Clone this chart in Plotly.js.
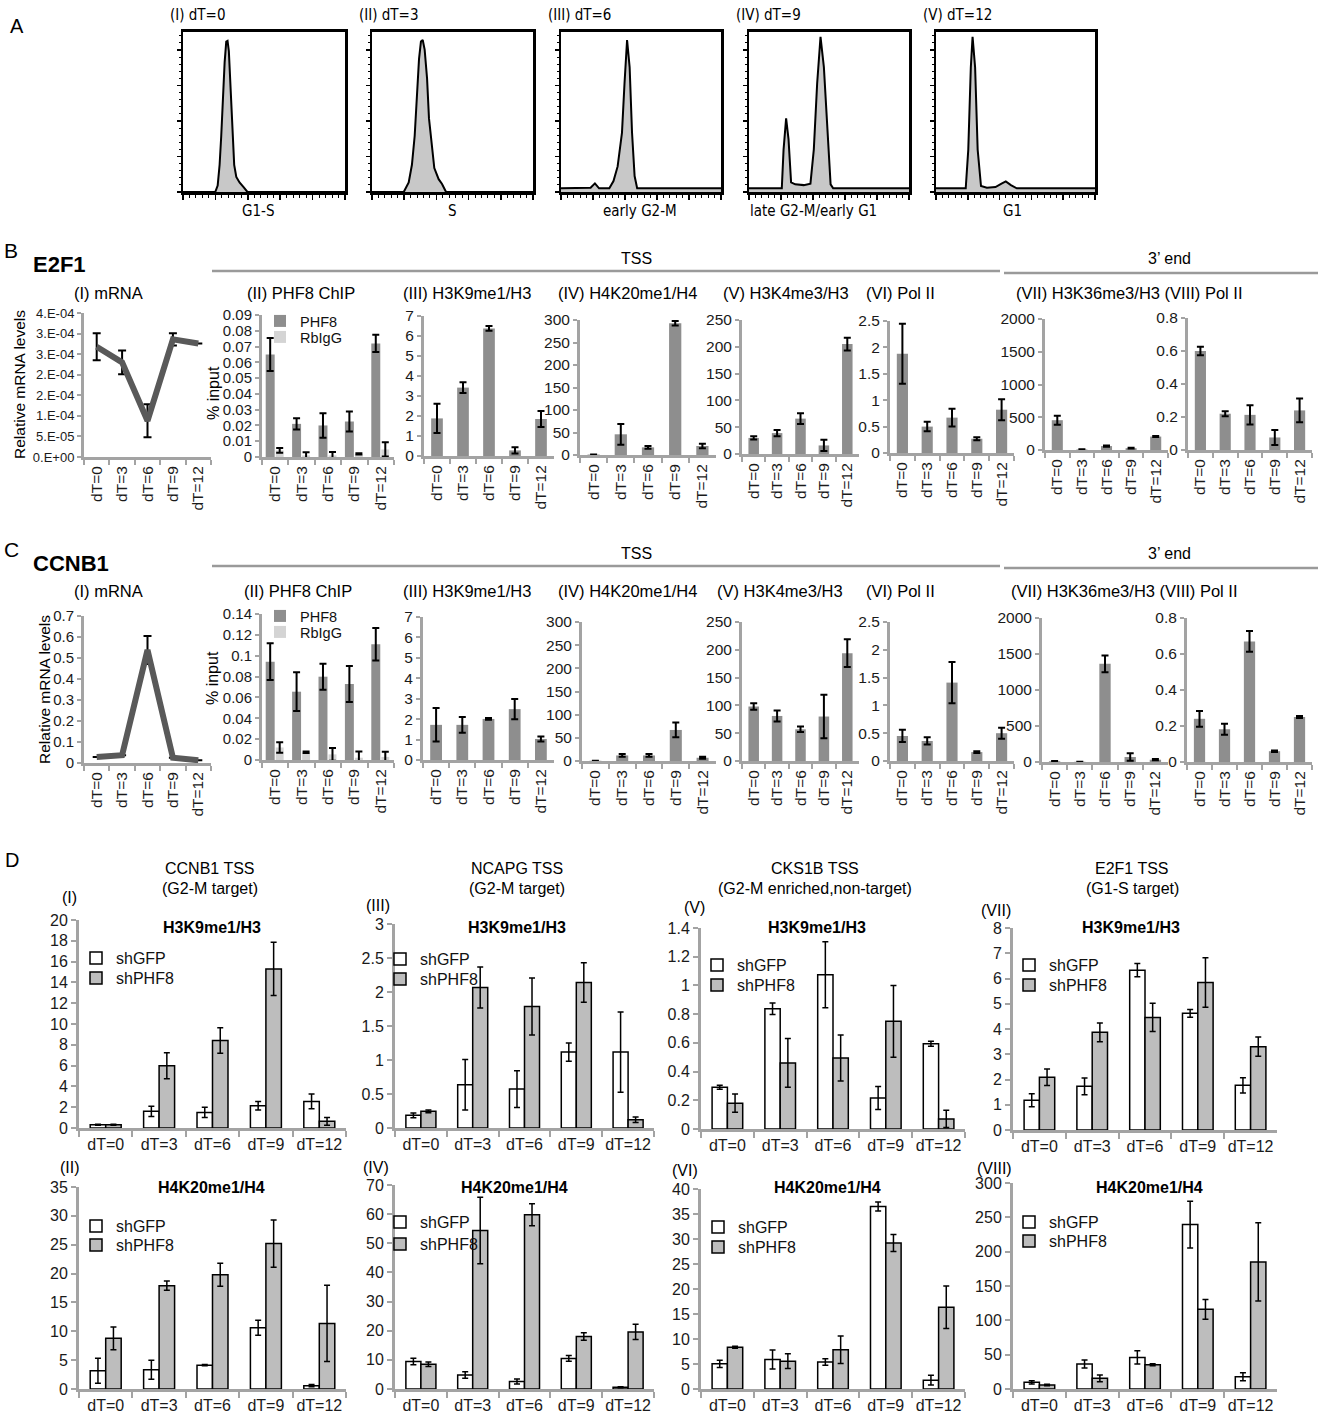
<!DOCTYPE html>
<html><head><meta charset="utf-8">
<script src="https://cdn.plot.ly/plotly-3.0.1.min.js"></script>
<style>html,body{margin:0;padding:0;background:#fff}#chart{width:1322px;height:1415px}</style>
</head><body><div id="chart"></div>
<script>
const W = 1322, H = 1415;
const FONT = 'Liberation Sans, Arial, Helvetica, sans-serif';
const NARROW = 'Liberation Sans Narrow, Arial Narrow, DejaVu Sans Condensed, Liberation Sans, sans-serif';

// ================= DATA =================
const timePoints = ['dT=0', 'dT=3', 'dT=6', 'dT=9', 'dT=12'];

// Panel A: DNA-content histograms (x: % of channel range, y: % of box height)
const histI_x = [0, 19.9, 21.4, 22.6, 23.6, 24.6, 25.7, 26.7, 27.5, 28.3, 29.4, 30.4, 31.6, 32.9, 34.9, 37.4, 39.8, 100];
const histI_y = [0, 0, 4, 17, 35, 58, 81, 94, 94.5, 88, 62.5, 35, 17, 9.4, 6, 3, 0, 0];
const histII_x = [0, 19.7, 22.8, 24.8, 26.5, 28, 29.2, 30.4, 31.5, 32.7, 34.2, 35.4, 36.6, 38.7, 41.4, 43.5, 46, 100];
const histII_y = [0, 0, 6, 17, 35, 60, 83, 94, 95, 89, 71, 46, 35, 15, 8, 5, 0, 0];
const histIII_x = [0, 16.9, 18.5, 21.2, 23.8, 30.2, 32.8, 35.4, 38.1, 39.7, 41.3, 42.9, 44.4, 46, 47.6, 100];
const histIII_y = [2.3, 2.3, 2.7, 5.4, 2.3, 2.3, 6.8, 16, 37, 68, 95, 78, 37, 10, 2.3, 2.3];
const histIV_x = [0, 20.5, 21.6, 23.2, 24.7, 26.3, 28.9, 34.2, 38.4, 40.5, 42.6, 44.7, 46.8, 48.9, 51, 52.6, 100];
const histIV_y = [2.3, 2.3, 26.5, 46, 33, 6, 4.8, 4.3, 5.2, 26.5, 68, 97, 78, 37, 4.8, 2.3, 2.3];
const histV_x = [0, 18.7, 20.3, 21.9, 23, 24.6, 26.2, 28.3, 32, 37.4, 41.2, 43.9, 47.1, 50.8, 100];
const histV_y = [2.3, 2.3, 26.5, 78, 97, 78, 26.5, 3.7, 2.7, 3.1, 5.2, 6.6, 4.3, 2.3, 2.3];
const histTopLabels = ['(I) dT=0', '(II) dT=3', '(III) dT=6', '(IV) dT=9', '(V) dT=12'];
const histBottomLabels = ['G1-S', 'S', 'early G2-M', 'late G2-M/early G1', 'G1'];

// Row B: E2F1
const e2f1_mRNA = [2.68e-4, 2.30e-4, 0.88e-4, 2.86e-4, 2.76e-4];
const e2f1_mRNA_err = [0.33e-4, 0.29e-4, 0.40e-4, 0.15e-4, 0];
const e2f1_mRNA_tickvals = [0, 0.5e-4, 1e-4, 1.5e-4, 2e-4, 2.5e-4, 3e-4, 3.5e-4];
const e2f1_mRNA_ticktext = ['0.E+00', '5.E-05', '1.E-04', '2.E-04', '2.E-04', '3.E-04', '3.E-04', '4.E-04'];
const e2f1_PHF8 = [0.065, 0.021, 0.020, 0.0225, 0.072];
const e2f1_PHF8_err = [0.0105, 0.0035, 0.0078, 0.0063, 0.0055];
const e2f1_RbIgG = [0.0042, 0.001, 0.001, 0.002, 0.0048];
const e2f1_RbIgG_err = [0.0015, 0.002, 0.0022, 0.0004, 0.0045];
const e2f1_H3K9me1 = [1.88, 3.42, 6.38, 0.28, 1.85];
const e2f1_H3K9me1_err = [0.73, 0.27, 0.12, 0.16, 0.4];
const e2f1_H4K20me1 = [1, 46, 17, 293, 20];
const e2f1_H4K20me1_err = [0, 23, 3, 5, 5];
const e2f1_H3K4me3 = [30, 39, 66, 16, 205];
const e2f1_H3K4me3_err = [3, 6, 10, 10.6, 12];
const e2f1_PolII_TSS = [1.88, 0.5, 0.67, 0.27, 0.82];
const e2f1_PolII_TSS_err = [0.57, 0.09, 0.17, 0.03, 0.2];
const e2f1_H3K36me3 = [455, 8, 60, 28, 205];
const e2f1_H3K36me3_err = [68, 3, 10, 5, 8];
const e2f1_PolII_3end = [0.6, 0.22, 0.213, 0.076, 0.24];
const e2f1_PolII_3end_err = [0.026, 0.015, 0.058, 0.045, 0.072];

// Row C: CCNB1
const ccnb1_mRNA = [0.029, 0.037, 0.538, 0.025, 0.013];
const ccnb1_mRNA_err = [0, 0, 0.067, 0, 0];
const ccnb1_PHF8 = [0.0943, 0.0655, 0.0799, 0.0729, 0.111];
const ccnb1_PHF8_err = [0.0176, 0.0186, 0.0125, 0.0173, 0.0155];
const ccnb1_RbIgG = [0.012, 0.0074, 0.0054, 0.0022, 0.003];
const ccnb1_RbIgG_err = [0.005, 0.0008, 0.006, 0.006, 0.005];
const ccnb1_H3K9me1 = [1.72, 1.72, 2.01, 2.49, 1.03];
const ccnb1_H3K9me1_err = [0.82, 0.39, 0.04, 0.5, 0.12];
const ccnb1_H4K20me1 = [0.5, 12, 12, 67, 7];
const ccnb1_H4K20me1_err = [0, 3, 3, 16, 2];
const ccnb1_H3K4me3 = [98, 81, 57, 80, 194];
const ccnb1_H3K4me3_err = [6, 10, 5, 39, 25];
const ccnb1_PolII_TSS = [0.45, 0.36, 1.41, 0.16, 0.5];
const ccnb1_PolII_TSS_err = [0.11, 0.065, 0.37, 0.015, 0.1];
const ccnb1_H3K36me3 = [10, 3, 1363, 69, 32];
const ccnb1_H3K36me3_err = [3, 1, 115, 51, 8];
const ccnb1_PolII_3end = [0.24, 0.182, 0.67, 0.06, 0.25];
const ccnb1_PolII_3end_err = [0.044, 0.03, 0.058, 0.004, 0.006];

// Row D: shGFP vs shPHF8
const ccnb1_H3K9_shGFP = [0.32, 1.6, 1.5, 2.14, 2.56];
const ccnb1_H3K9_shGFP_err = [0.05, 0.5, 0.5, 0.4, 0.72];
const ccnb1_H3K9_shPHF8 = [0.32, 5.98, 8.42, 15.3, 0.64];
const ccnb1_H3K9_shPHF8_err = [0.05, 1.25, 1.23, 2.56, 0.37];
const ncapg_H3K9_shGFP = [0.186, 0.636, 0.573, 1.116, 1.116];
const ncapg_H3K9_shGFP_err = [0.035, 0.37, 0.27, 0.135, 0.59];
const ncapg_H3K9_shPHF8 = [0.245, 2.066, 1.787, 2.14, 0.122];
const ncapg_H3K9_shPHF8_err = [0.02, 0.3, 0.42, 0.29, 0.04];
const cks1b_H3K9_shGFP = [0.29, 0.838, 1.075, 0.216, 0.594];
const cks1b_H3K9_shGFP_err = [0.014, 0.04, 0.23, 0.08, 0.017];
const cks1b_H3K9_shPHF8 = [0.18, 0.46, 0.495, 0.75, 0.07];
const cks1b_H3K9_shPHF8_err = [0.063, 0.17, 0.16, 0.25, 0.06];
const e2f1_H3K9_shGFP = [1.18, 1.73, 6.33, 4.62, 1.77];
const e2f1_H3K9_shGFP_err = [0.26, 0.33, 0.26, 0.15, 0.3];
const e2f1_H3K9_shPHF8 = [2.09, 3.87, 4.46, 5.84, 3.3];
const e2f1_H3K9_shPHF8_err = [0.33, 0.37, 0.56, 0.98, 0.38];
const ccnb1_H4K20_shGFP = [3.16, 3.33, 4.13, 10.6, 0.57];
const ccnb1_H4K20_shGFP_err = [2.15, 1.63, 0.1, 1.3, 0.2];
const ccnb1_H4K20_shPHF8 = [8.78, 17.9, 19.8, 25.2, 11.36];
const ccnb1_H4K20_shPHF8_err = [1.98, 0.8, 2, 4.1, 6.6];
const ncapg_H4K20_shGFP = [9.45, 4.8, 2.6, 10.5, 0.6];
const ncapg_H4K20_shGFP_err = [1.1, 1.15, 0.85, 1.0, 0.2];
const ncapg_H4K20_shPHF8 = [8.5, 54.4, 59.8, 18, 19.6];
const ncapg_H4K20_shPHF8_err = [0.8, 11.4, 3.75, 1.3, 2.6];
const cks1b_H4K20_shGFP = [5.03, 5.88, 5.42, 36.5, 1.76];
const cks1b_H4K20_shGFP_err = [0.72, 1.9, 0.65, 0.88, 0.98];
const cks1b_H4K20_shPHF8 = [8.37, 5.56, 7.84, 29.2, 16.34];
const cks1b_H4K20_shPHF8_err = [0.2, 1.47, 2.75, 1.7, 4.25];
const e2f1_H4K20_shGFP = [9.7, 36.3, 46, 239.5, 17.9];
const e2f1_H4K20_shGFP_err = [2.4, 5.8, 9.7, 34, 5.8];
const e2f1_H4K20_shPHF8 = [5.8, 15.5, 35.3, 116, 185];
const e2f1_H4K20_shPHF8_err = [1, 4.8, 1.5, 14.5, 57];

const rowTitles = ['(I) mRNA', '(II) PHF8 ChIP', '(III) H3K9me1/H3', '(IV) H4K20me1/H4', '(V) H3K4me3/H3', '(VI) Pol II', '(VII) H3K36me3/H3 (VIII) Pol II'];
const dGroupTitles = ['CCNB1 TSS', 'NCAPG TSS', 'CKS1B TSS', 'E2F1 TSS'];
const dGroupSubtitles = ['(G2-M target)', '(G2-M target)', '(G2-M enriched,non-target)', '(G1-S target)'];
const dPanelLabelsTop = ['(I)', '(III)', '(V)', '(VII)'];
const dPanelLabelsBottom = ['(II)', '(IV)', '(VI)', '(VIII)'];

// ================= HELPERS =================
const AX = '#a3a3a3';
const BAR = '#8e8e8e', BAR_LIGHT = '#d4d4d4', D_GRAY = '#bdbdbd';
const data = [], annotations = [], shapes = [];
const layout = {
  width: W, height: H, margin: {l: 0, r: 0, t: 0, b: 0},
  paper_bgcolor: '#fff', plot_bgcolor: 'rgba(0,0,0,0)',
  barmode: 'overlay', hovermode: false, showlegend: true,
  font: {family: FONT, size: 15, color: '#000'},
  annotations: annotations, shapes: shapes
};
let axN = 0, legN = 0;
const fx = p => p / W;
const fy = p => 1 - p / H;

function axisNames() {
  axN++;
  const s = axN === 1 ? '' : String(axN);
  return {xk: 'xaxis' + s, yk: 'yaxis' + s, x: 'x' + s, y: 'y' + s};
}
function txt(x, y, text, o) {
  o = o || {};
  annotations.push({xref: 'paper', yref: 'paper', x: fx(x), y: fy(y), text: text, showarrow: false,
    xanchor: o.xa || 'left', yanchor: o.ya || 'middle', textangle: o.angle || 0, borderpad: 0,
    font: {family: o.family || FONT, size: o.size || 16, color: o.color || '#000'}});
}
function legendAt(textX, yc, size) {
  legN++;
  const key = legN === 1 ? 'legend' : 'legend' + legN;
  layout[key] = {x: fx(textX - 40), y: fy(yc), xanchor: 'left', yanchor: 'middle',
    bgcolor: 'rgba(0,0,0,0)', borderwidth: 0, itemwidth: 30, tracegroupgap: 0,
    font: {family: FONT, size: size, color: '#111'}};
  return key;
}
function histPanel(x0, x1, top, bottom, hx, hy) {
  const a = axisNames();
  layout[a.xk] = {domain: [fx(x0), fx(x1)], anchor: a.y, range: [0, 100], showline: true, mirror: true,
    linecolor: '#000', linewidth: 3, ticks: 'outside', ticklen: 5, tickwidth: 1.5, tickcolor: '#000',
    tick0: 0, dtick: 20, minor: {dtick: 4, ticks: 'outside', ticklen: 2.5, tickwidth: 1, tickcolor: '#000'},
    showticklabels: false, showgrid: false, zeroline: false, fixedrange: true};
  layout[a.yk] = {domain: [fy(bottom), fy(top)], anchor: a.x, range: [0, 100], showline: true, mirror: true,
    linecolor: '#000', linewidth: 2.5, ticks: 'outside', ticklen: 4, tickwidth: 1.5, tickcolor: '#000',
    tick0: 0, dtick: 22.2, minor: {dtick: 4.44, ticks: 'outside', ticklen: 2, tickwidth: 1, tickcolor: '#000'},
    showticklabels: false, showgrid: false, zeroline: false, fixedrange: true};
  data.push({type: 'scatter', mode: 'lines', x: hx, y: hy, xaxis: a.x, yaxis: a.y,
    line: {color: '#000', width: 2}, fill: 'tozeroy', fillcolor: '#c8c8c8', showlegend: false, hoverinfo: 'skip'});
}
function bcAxes(x0, x1, top, bottom, ymax, dtick, tv, tt, tsize) {
  const a = axisNames();
  layout[a.xk] = {domain: [fx(x0), fx(x1)], anchor: a.y, type: 'category', range: [-0.5, 4.5],
    showline: true, linecolor: AX, linewidth: 3, ticks: 'outside', tickson: 'boundaries', ticklen: 5,
    tickwidth: 2, tickcolor: AX, tickangle: -90, tickfont: {family: FONT, size: 15.5, color: '#1a1a1a'},
    showgrid: false, zeroline: false, fixedrange: true};
  const y = {domain: [fy(bottom), fy(top)], anchor: a.x, range: [0, ymax * (1 + 1e-6)], showline: true,
    linecolor: AX, linewidth: 3, ticks: 'outside', ticklen: 4, tickwidth: 2, tickcolor: AX,
    tickfont: {family: FONT, size: tsize || 15.5, color: '#1a1a1a'}, showgrid: false, zeroline: false, fixedrange: true};
  if (tv) { y.tickmode = 'array'; y.tickvals = tv; y.ticktext = tt; } else { y.tick0 = 0; y.dtick = dtick; }
  layout[a.yk] = y;
  return a;
}
function dAxes(x0, x1, top, bottom, ymax, dtick) {
  const a = axisNames();
  layout[a.xk] = {domain: [fx(x0), fx(x1)], anchor: a.y, type: 'category', range: [-0.5, 4.5],
    showline: true, linecolor: AX, linewidth: 3, ticks: 'outside', tickson: 'boundaries', ticklen: 6,
    tickwidth: 2, tickcolor: AX, tickangle: 0, tickfont: {family: FONT, size: 16, color: '#1a1a1a'},
    showgrid: false, zeroline: false, fixedrange: true};
  layout[a.yk] = {domain: [fy(bottom), fy(top)], anchor: a.x, range: [0, ymax * (1 + 1e-6)], tick0: 0, dtick: dtick,
    showline: true, linecolor: AX, linewidth: 3, ticks: 'outside', ticklen: 5, tickwidth: 2, tickcolor: AX,
    tickfont: {family: FONT, size: 16, color: '#1a1a1a'}, showgrid: false, zeroline: false, fixedrange: true};
  return a;
}
function bars(ax, y, err, o) {
  const t = {type: 'bar', x: timePoints, y: y, xaxis: ax.x, yaxis: ax.y, name: o.name || '',
    width: o.width, offset: o.offset,
    marker: {color: o.fill, line: {color: o.lc || o.fill, width: o.lw || 0}},
    error_y: {type: 'data', array: err, visible: true, color: '#000', thickness: o.et || 2, width: o.ew || 3.5},
    showlegend: !!o.legend, hoverinfo: 'skip'};
  if (o.legend) t.legend = o.legend;
  data.push(t);
}
function single(ax, y, err) { bars(ax, y, err, {fill: BAR, width: 0.45, offset: -0.225}); }
function mrnaLine(ax, y, err) {
  data.push({type: 'scatter', mode: 'lines', x: timePoints, y: y, xaxis: ax.x, yaxis: ax.y,
    line: {color: '#595959', width: 6},
    error_y: {type: 'data', array: err, visible: true, color: '#000', thickness: 2, width: 4},
    showlegend: false, hoverinfo: 'skip'});
}

// ================= PANEL A =================
txt(9, 26, 'A', {size: 20});
const histBoxes = [[183, 345], [372, 533], [561, 721], [749, 909], [936, 1095]];
const histXs = [histI_x, histII_x, histIII_x, histIV_x, histV_x];
const histYs = [histI_y, histII_y, histIII_y, histIV_y, histV_y];
const histBottomX = [258, 452, 640, 813, 1012];
histBoxes.forEach((b, i) => {
  histPanel(b[0], b[1], 32, 192, histXs[i], histYs[i]);
  txt(b[0] - 14, 15, histTopLabels[i], {size: 15, family: NARROW});
  txt(histBottomX[i], 211, histBottomLabels[i], {size: 15, family: NARROW, xa: 'center'});
});

// ================= ROWS B & C =================
function chipRow(o) {
  txt(3, o.letterY, o.letter, {size: 21});
  txt(32, o.geneY, '<b>' + o.gene + '</b>', {size: 22});
  txt(636, o.headY, 'TSS', {xa: 'center', size: 16});
  txt(1169, o.headY, '3’ end', {xa: 'center', size: 16});
  shapes.push({type: 'line', xref: 'paper', yref: 'paper', x0: fx(212), x1: fx(1000), y0: fy(o.lineY), y1: fy(o.lineY), line: {color: '#9a9a9a', width: 2.5}});
  shapes.push({type: 'line', xref: 'paper', yref: 'paper', x0: fx(1004), x1: fx(1318), y0: fy(o.lineY + 2), y1: fy(o.lineY + 2), line: {color: '#9a9a9a', width: 2.5}});
  rowTitles.forEach((t, i) => txt(o.titleX[i], o.titleY, t, {size: 16.5}));
  txt(o.ytitleX, o.ytitleY, 'Relative mRNA levels', {angle: -90, xa: 'center', size: 15.5});
  txt(213, o.inputY, '% input', {angle: -90, xa: 'center', size: 16});
  const g = o.geo;
  const m = bcAxes(g[0][0], g[0][1], g[0][2], g[0][3], o.mrnaMax, o.mrnaDtick, o.mrnaTv, o.mrnaTt, o.mrnaTick);
  mrnaLine(m, o.mRNA, o.mRNA_err);
  const p = bcAxes(g[1][0], g[1][1], g[1][2], g[1][3], o.phfMax, o.phfDtick, null, null, 15);
  bars(p, o.PHF8, o.PHF8_err, {fill: BAR, width: 0.34, offset: -0.36, name: 'PHF8', legend: legendAt(300, o.legY[0], 14.5)});
  bars(p, o.RbIgG, o.RbIgG_err, {fill: BAR_LIGHT, width: 0.3, offset: 0.02, name: 'RbIgG', legend: legendAt(300, o.legY[1], 14.5)});
  single(bcAxes(g[2][0], g[2][1], g[2][2], g[2][3], 7, 1), o.H3K9, o.H3K9_err);
  single(bcAxes(g[3][0], g[3][1], g[3][2], g[3][3], 300, 50), o.H4K20, o.H4K20_err);
  single(bcAxes(g[4][0], g[4][1], g[4][2], g[4][3], 250, 50), o.H3K4, o.H3K4_err);
  single(bcAxes(g[5][0], g[5][1], g[5][2], g[5][3], 2.5, 0.5), o.Pol1, o.Pol1_err);
  single(bcAxes(g[6][0], g[6][1], g[6][2], g[6][3], 2000, 500), o.H3K36, o.H3K36_err);
  single(bcAxes(g[7][0], g[7][1], g[7][2], g[7][3], 0.8, 0.2), o.Pol2, o.Pol2_err);
}

chipRow({
  letter: 'B', letterY: 250, gene: 'E2F1', geneY: 264, headY: 258, lineY: 271, titleY: 293,
  titleX: [73, 246, 402, 557, 722, 865, 1015], ytitleX: 20, ytitleY: 385, inputY: 393, legY: [321, 337],
  geo: [[84, 211, 313, 457], [262, 394, 315, 457], [424, 554, 316, 456], [580, 716, 320, 455],
        [742, 859, 320, 454], [890, 1014, 321, 453], [1045, 1168, 319, 450], [1188, 1312, 318, 450]],
  mrnaMax: 3.5e-4, mrnaTv: e2f1_mRNA_tickvals, mrnaTt: e2f1_mRNA_ticktext, mrnaTick: 13,
  mRNA: e2f1_mRNA, mRNA_err: e2f1_mRNA_err,
  phfMax: 0.09, phfDtick: 0.01, PHF8: e2f1_PHF8, PHF8_err: e2f1_PHF8_err, RbIgG: e2f1_RbIgG, RbIgG_err: e2f1_RbIgG_err,
  H3K9: e2f1_H3K9me1, H3K9_err: e2f1_H3K9me1_err, H4K20: e2f1_H4K20me1, H4K20_err: e2f1_H4K20me1_err,
  H3K4: e2f1_H3K4me3, H3K4_err: e2f1_H3K4me3_err, Pol1: e2f1_PolII_TSS, Pol1_err: e2f1_PolII_TSS_err,
  H3K36: e2f1_H3K36me3, H3K36_err: e2f1_H3K36me3_err, Pol2: e2f1_PolII_3end, Pol2_err: e2f1_PolII_3end_err
});

chipRow({
  letter: 'C', letterY: 549, gene: 'CCNB1', geneY: 563, headY: 553, lineY: 566, titleY: 591,
  titleX: [73, 243, 402, 557, 716, 865, 1010], ytitleX: 44, ytitleY: 690, inputY: 678, legY: [616, 632],
  geo: [[84, 211, 616, 763], [262, 394, 614, 760], [423, 554, 617, 760], [582, 716, 622, 761],
        [742, 859, 622, 761], [890, 1014, 622, 761], [1042, 1168, 618, 762], [1187, 1312, 618, 762]],
  mrnaMax: 0.7, mrnaDtick: 0.1, mrnaTick: 15,
  mRNA: ccnb1_mRNA, mRNA_err: ccnb1_mRNA_err,
  phfMax: 0.14, phfDtick: 0.02, PHF8: ccnb1_PHF8, PHF8_err: ccnb1_PHF8_err, RbIgG: ccnb1_RbIgG, RbIgG_err: ccnb1_RbIgG_err,
  H3K9: ccnb1_H3K9me1, H3K9_err: ccnb1_H3K9me1_err, H4K20: ccnb1_H4K20me1, H4K20_err: ccnb1_H4K20me1_err,
  H3K4: ccnb1_H3K4me3, H3K4_err: ccnb1_H3K4me3_err, Pol1: ccnb1_PolII_TSS, Pol1_err: ccnb1_PolII_TSS_err,
  H3K36: ccnb1_H3K36me3, H3K36_err: ccnb1_H3K36me3_err, Pol2: ccnb1_PolII_3end, Pol2_err: ccnb1_PolII_3end_err
});

// ================= ROW D =================
txt(4, 860, 'D', {size: 20});
const dCols = [[79, 346], [395, 654], [701, 965], [1013, 1277]];
const dHeadX = [210, 517, 815, 1132];
const dTopY = [[920, 1128], [924, 1128], [928, 1129], [928, 1130]];
const dBotY = [[1187, 1389], [1185, 1389], [1189, 1389], [1183, 1389]];
const dTopMax = [[20, 2], [3, 0.5], [1.4, 0.2], [8, 1]];
const dBotMax = [[35, 5], [70, 10], [40, 5], [300, 50]];
const dTopLabelPos = [[61, 897], [365, 905], [683, 907], [980, 910]];
const dBotLabelPos = [[59, 1167], [362, 1167], [671, 1170], [976, 1168]];
const dTopTitleX = [212, 517, 817, 1131];
const dBotTitleX = [211, 514, 827, 1149];
const dTopLegend = [[116, 958, 978], [420, 959, 979], [737, 965, 985], [1049, 965, 985]];
const dBotLegend = [[116, 1226, 1245], [420, 1222, 1244], [738, 1227, 1247], [1049, 1222, 1241]];
const dTopGFP = [ccnb1_H3K9_shGFP, ncapg_H3K9_shGFP, cks1b_H3K9_shGFP, e2f1_H3K9_shGFP];
const dTopGFPe = [ccnb1_H3K9_shGFP_err, ncapg_H3K9_shGFP_err, cks1b_H3K9_shGFP_err, e2f1_H3K9_shGFP_err];
const dTopPHF = [ccnb1_H3K9_shPHF8, ncapg_H3K9_shPHF8, cks1b_H3K9_shPHF8, e2f1_H3K9_shPHF8];
const dTopPHFe = [ccnb1_H3K9_shPHF8_err, ncapg_H3K9_shPHF8_err, cks1b_H3K9_shPHF8_err, e2f1_H3K9_shPHF8_err];
const dBotGFP = [ccnb1_H4K20_shGFP, ncapg_H4K20_shGFP, cks1b_H4K20_shGFP, e2f1_H4K20_shGFP];
const dBotGFPe = [ccnb1_H4K20_shGFP_err, ncapg_H4K20_shGFP_err, cks1b_H4K20_shGFP_err, e2f1_H4K20_shGFP_err];
const dBotPHF = [ccnb1_H4K20_shPHF8, ncapg_H4K20_shPHF8, cks1b_H4K20_shPHF8, e2f1_H4K20_shPHF8];
const dBotPHFe = [ccnb1_H4K20_shPHF8_err, ncapg_H4K20_shPHF8_err, cks1b_H4K20_shPHF8_err, e2f1_H4K20_shPHF8_err];

function dPanel(col, yy, mx, gfp, gfpE, phf, phfE, leg) {
  const a = dAxes(col[0], col[1], yy[0], yy[1], mx[0], mx[1]);
  bars(a, gfp, gfpE, {fill: '#ffffff', lc: '#000', lw: 1.5, width: 0.29, offset: -0.29, et: 1.5, ew: 3,
    name: 'shGFP', legend: legendAt(leg[0], leg[1], 16)});
  bars(a, phf, phfE, {fill: D_GRAY, lc: '#000', lw: 1.5, width: 0.29, offset: 0, et: 1.5, ew: 3,
    name: 'shPHF8', legend: legendAt(leg[0], leg[2], 16)});
}
dCols.forEach((col, i) => {
  txt(dHeadX[i], 868, dGroupTitles[i], {xa: 'center', size: 16});
  txt(dHeadX[i], 888, dGroupSubtitles[i], {xa: 'center', size: 16});
  txt(dTopLabelPos[i][0], dTopLabelPos[i][1], dPanelLabelsTop[i], {size: 16});
  txt(dBotLabelPos[i][0], dBotLabelPos[i][1], dPanelLabelsBottom[i], {size: 16});
  txt(dTopTitleX[i], 927, '<b>H3K9me1/H3</b>', {xa: 'center', size: 16});
  txt(dBotTitleX[i], 1187, '<b>H4K20me1/H4</b>', {xa: 'center', size: 16});
  dPanel(col, dTopY[i], dTopMax[i], dTopGFP[i], dTopGFPe[i], dTopPHF[i], dTopPHFe[i], dTopLegend[i]);
  dPanel(col, dBotY[i], dBotMax[i], dBotGFP[i], dBotGFPe[i], dBotPHF[i], dBotPHFe[i], dBotLegend[i]);
});

Plotly.newPlot('chart', data, layout, {displayModeBar: false, staticPlot: true});
</script>
</body></html>
